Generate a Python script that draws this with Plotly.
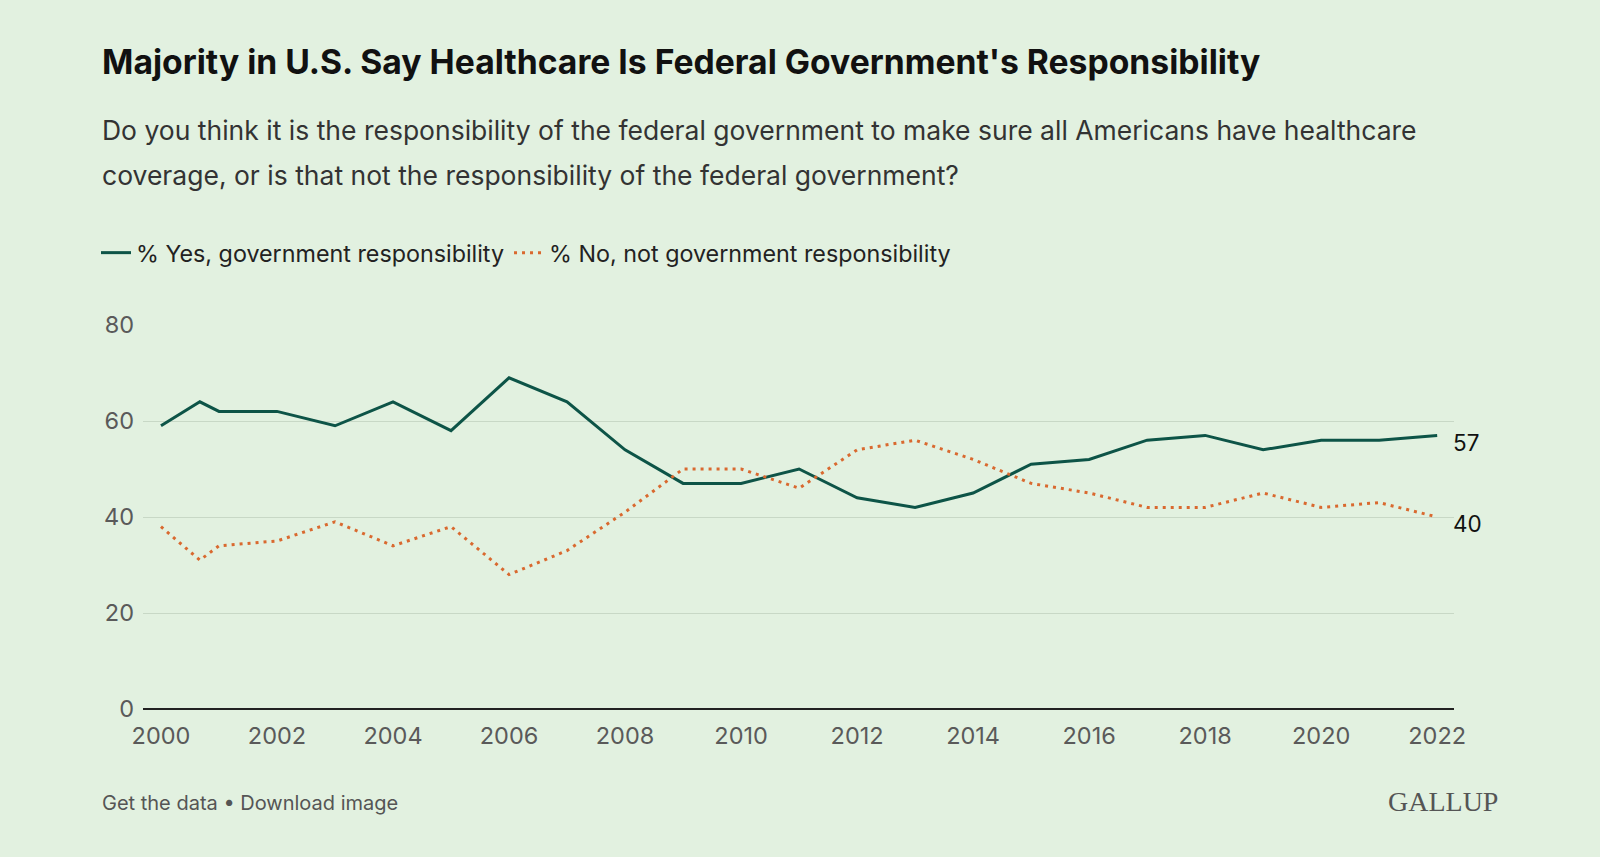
import plotly.graph_objects as go

# ---- data ----
years = [2000.0, 2000.67, 2001, 2002, 2003, 2004, 2005, 2006, 2007, 2008, 2009, 2010,
         2011, 2012, 2013, 2014, 2015, 2016, 2017, 2018, 2019, 2020, 2021, 2022]
yes_resp = [59, 64, 62, 62, 59, 64, 58, 69, 64, 54, 47, 47,
            50, 44, 42, 45, 51, 52, 56, 57, 54, 56, 56, 57]
no_resp = [38, 31, 34, 35, 39, 34, 38, 28, 33, 41, 50, 50,
           46, 54, 56, 52, 47, 45, 42, 42, 45, 42, 43, 40]
x_ticks = [2000, 2002, 2004, 2006, 2008, 2010, 2012, 2014, 2016, 2018, 2020, 2022]
y_ticks = [0, 20, 40, 60, 80]
series_names = ["% Yes, government responsibility", "% No, not government responsibility"]

title = "Majority in U.S. Say Healthcare Is Federal Government's Responsibility"
subtitle_lines = [
    "Do you think it is the responsibility of the federal government to make sure all Americans have healthcare",
    "coverage, or is that not the responsibility of the federal government?",
]
footer = "Get the data • Download image"

# ---- styles ----
BG = "#E2F1E0"
GREEN = "#0D5447"
ORANGE = "#D9692F"
FONT = "Inter"

W, H = 1600, 857
L, R, T, B = 143, 146, 325, 148
PW, PH = W - L - R, H - T - B


def fx(px):
    return (px - L) / PW


def fy(py):
    return (H - B - py) / PH


fig = go.Figure()
fig.add_trace(go.Scatter(x=years, y=yes_resp, mode="lines", name=series_names[0],
                         line=dict(color=GREEN, width=3), hoverinfo="skip"))
fig.add_trace(go.Scatter(x=years, y=no_resp, mode="lines", name=series_names[1],
                         line=dict(color=ORANGE, width=3, dash="3px,5px"), hoverinfo="skip"))

annotations = [
    dict(text=f"<b>{title}</b>", x=fx(100), y=fy(61), xref="paper", yref="paper",
         xanchor="left", yanchor="middle", showarrow=False,
         font=dict(family=FONT, size=33.7, color="#111111")),
    dict(text=subtitle_lines[0], x=fx(100), y=fy(130), xref="paper", yref="paper",
         xanchor="left", yanchor="middle", showarrow=False, align="left",
         font=dict(family=FONT, size=26.5, color="#333333")),
    dict(text=subtitle_lines[1], x=fx(100), y=fy(175), xref="paper", yref="paper",
         xanchor="left", yanchor="middle", showarrow=False, align="left",
         font=dict(family=FONT, size=26.5, color="#333333")),
    dict(text=footer, x=fx(100), y=fy(803), xref="paper", yref="paper",
         xanchor="left", yanchor="middle", showarrow=False,
         font=dict(family=FONT, size=20, color="#555555")),
    dict(text="GALLUP", x=fx(1500), y=fy(801), xref="paper", yref="paper",
         xanchor="right", yanchor="middle", showarrow=False,
         font=dict(family="Liberation Serif", size=28, color="#555555")),
    dict(text=str(yes_resp[-1]), x=years[-1], y=yes_resp[-1], xref="x", yref="y",
         xanchor="left", yanchor="middle", showarrow=False, xshift=14, yshift=-7,
         font=dict(family=FONT, size=22.5, color="#111111")),
    dict(text=str(no_resp[-1]), x=years[-1], y=no_resp[-1], xref="x", yref="y",
         xanchor="left", yanchor="middle", showarrow=False, xshift=14, yshift=-6,
         font=dict(family=FONT, size=22.5, color="#111111")),
]

fig.update_layout(
    width=W, height=H,
    margin=dict(l=L, r=R, t=T, b=B, autoexpand=False),
    paper_bgcolor=BG, plot_bgcolor=BG,
    font=dict(family=FONT, color="#5A5A5A"),
    showlegend=True,
    legend=dict(orientation="h", x=fx(96), y=fy(253), xanchor="left", yanchor="middle",
                font=dict(family=FONT, size=23.3, color="#222222"),
                bgcolor="rgba(0,0,0,0)", itemwidth=30, traceorder="normal"),
    xaxis=dict(range=[1999.69, 2022.29], tickvals=x_ticks, showgrid=False, zeroline=False,
               showline=False, ticks="", ticklabelstandoff=10,
               tickfont=dict(family=FONT, size=23.5, color="#5A5A5A"),
               fixedrange=True),
    yaxis=dict(range=[0, 80], tickvals=y_ticks, showgrid=True, gridcolor="#C8D8C6", gridwidth=1,
               zeroline=True, zerolinecolor="#222222", zerolinewidth=2,
               showline=False, ticks="", ticklabelstandoff=8,
               tickfont=dict(family=FONT, size=23.5, color="#5A5A5A"),
               fixedrange=True),
    annotations=annotations,
)

fig.write_html("out.html", config={"displayModeBar": False, "staticPlot": True},
               post_script="document.body.style.margin='0px';")
